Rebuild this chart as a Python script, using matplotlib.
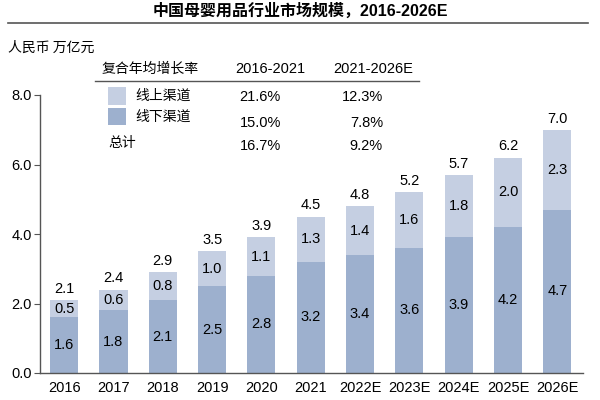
import matplotlib
matplotlib.use('Agg')
import matplotlib.pyplot as plt
import numpy as np
from matplotlib.patches import Rectangle
from matplotlib.lines import Line2D

plt.rcParams['font.family'] = ['Liberation Sans', 'Noto Sans CJK SC', 'DejaVu Sans']

# data
years = ['2016', '2017', '2018', '2019', '2020', '2021',
         '2022E', '2023E', '2024E', '2025E', '2026E']
offline = [1.6, 1.8, 2.1, 2.5, 2.8, 3.2, 3.4, 3.6, 3.9, 4.2, 4.7]
online = [0.5, 0.6, 0.8, 1.0, 1.1, 1.3, 1.4, 1.6, 1.8, 2.0, 2.3]
totals = [2.1, 2.4, 2.9, 3.5, 3.9, 4.5, 4.8, 5.2, 5.7, 6.2, 7.0]

cagr_periods = ['2016-2021', '2021-2026E']
cagr_rows = ['线上渠道', '线下渠道', '总计']
cagr_first = ['21.6%', '15.0%', '16.7%']
cagr_second = ['12.3%', '7.8%', '9.2%']

c_online = '#C5CFE2'
c_offline = '#9DB0CE'
cjk = ['Noto Sans CJK SC', 'DejaVu Sans']

W, H = 600, 400
fig = plt.figure(figsize=(6, 4), dpi=100)


def fx(px):
    return px / W


def fy(py):
    return 1 - py / H


ax = fig.add_axes([fx(40), fy(373), fx(583) - fx(40), fy(95) - fy(373)])

x = np.arange(len(years))
bw = 0.57
ax.bar(x, offline, width=bw, color=c_offline, edgecolor='none')
ax.bar(x, online, width=bw, bottom=offline, color=c_online, edgecolor='none')

for i in range(len(years)):
    ax.text(x[i], offline[i] / 2, f'{offline[i]:.1f}', ha='center', va='center', fontsize=10.5)
    ax.text(x[i], offline[i] + online[i] / 2, f'{online[i]:.1f}', ha='center', va='center', fontsize=10.5)
    ax.text(x[i], totals[i] + 0.12, f'{totals[i]:.1f}', ha='center', va='bottom', fontsize=10.5)

ax.set_xlim(-0.49, 10.52)
ax.set_ylim(0, 8)
ax.set_yticks([0, 2, 4, 6, 8])
ax.set_yticklabels([f'{v:.1f}' for v in [0, 2, 4, 6, 8]], fontsize=10.5)
ax.set_xticks(x)
ax.set_xticklabels(years, fontsize=10.5)
ax.tick_params(axis='x', length=0, pad=6)
ax.tick_params(axis='y', length=4, width=0.8, color='#555555', pad=2)
for s in ['top', 'right']:
    ax.spines[s].set_visible(False)
for s in ['left', 'bottom']:
    ax.spines[s].set_color('#555555')
    ax.spines[s].set_linewidth(1.0)

# title and rule
fig.text(0.5, fy(11), '中国母婴用品行业市场规模，2016-2026E', ha='center', va='center',
         fontsize=11.5, fontweight='bold')
fig.add_artist(Line2D([fx(8), fx(588)], [fy(23), fy(23)], color='#555555', lw=1.2))

fig.text(fx(8), fy(48), '人民币 万亿元', ha='left', va='center', fontsize=10, family=cjk)

# CAGR table
fig.text(fx(102), fy(69), '复合年均增长率', ha='left', va='center', fontsize=10, family=cjk)
fig.text(fx(270), fy(69), cagr_periods[0], ha='center', va='center', fontsize=10.5)
fig.text(fx(373), fy(69), cagr_periods[1], ha='center', va='center', fontsize=10.5)
fig.add_artist(Line2D([fx(95), fx(419)], [fy(81), fy(81)], color='#555555', lw=1.0))

fig.add_artist(Rectangle((fx(108), fy(105)), fx(18), fy(0) - fy(18), color=c_online, lw=0))
fig.add_artist(Rectangle((fx(108), fy(125)), fx(18), fy(0) - fy(17), color=c_offline, lw=0))

row_label_y = [96, 117, 143]
row_val_y = [97, 123, 146]
for i in range(3):
    lx = 135 if i < 2 else 108
    fig.text(fx(lx), fy(row_label_y[i]), cagr_rows[i], ha='left', va='center', fontsize=10, family=cjk)
    fig.text(fx(281), fy(row_val_y[i]), cagr_first[i], ha='right', va='center', fontsize=10.5)
    fig.text(fx(383), fy(row_val_y[i]), cagr_second[i], ha='right', va='center', fontsize=10.5)

fig.savefig('out.png', dpi=100)
